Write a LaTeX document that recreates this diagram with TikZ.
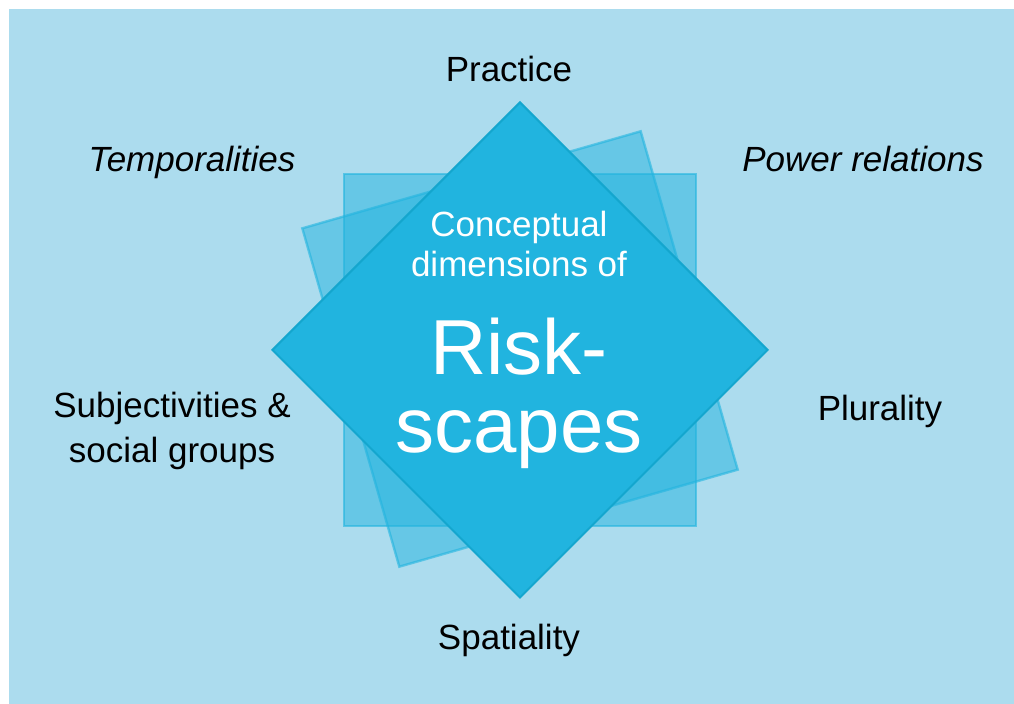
\documentclass[tikz,border=0pt]{standalone}
\usepackage{fontspec}
\setmainfont{Liberation Sans}
\usetikzlibrary{shapes.geometric}

\definecolor{bgblue}{RGB}{172,220,238}
\definecolor{riskblue}{RGB}{33,180,223}
\definecolor{riskedge}{RGB}{20,166,206}

\begin{document}
\begin{tikzpicture}[x=0.5pt, y=-0.5pt,
  dim/.style={font=\fontsize{17.5}{22.5}\selectfont, align=center, anchor=base},
  panel/.style={rectangle, fill=riskblue, fill opacity=0.5, draw=riskblue,
                draw opacity=0.6, line width=1.2pt, minimum size=176pt, inner sep=0pt}
]
\useasboundingbox (0,0) rectangle (1014,704);
\fill[bgblue] (9,9) rectangle (1014,704);

% overlapping squares behind the diamond
\node[panel] (flat) at (520,350) {};
\node[panel, rotate=16] (tilted) at (520,349) {};
\node[diamond, aspect=1, minimum width=248pt, minimum height=248pt, inner sep=0pt,
      fill=riskblue, draw=riskedge, line width=1pt] (core) at (520,350) {};

% centre text (base = last line)
\node[dim, text=white, font=\fontsize{17.5}{20}\selectfont] (concept) at (519,277) {Conceptual\\dimensions of};
\node[dim, text=white, font=\fontsize{39}{39}\selectfont] (risk) at (519,453) {Risk-\\scapes};

% dimensions around
\node[dim] (practice) at (509,82)  {Practice};
\node[dim] (temporal) at (192,172) {\textit{Temporalities}};
\node[dim] (power)    at (863,172) {\textit{Power relations}};
\node[dim] (subject)  at (172,463) {Subjectivities \&\\social groups};
\node[dim] (plural)   at (880,421) {Plurality};
\node[dim] (spatial)  at (509,650) {Spatiality};
\end{tikzpicture}
\end{document}
